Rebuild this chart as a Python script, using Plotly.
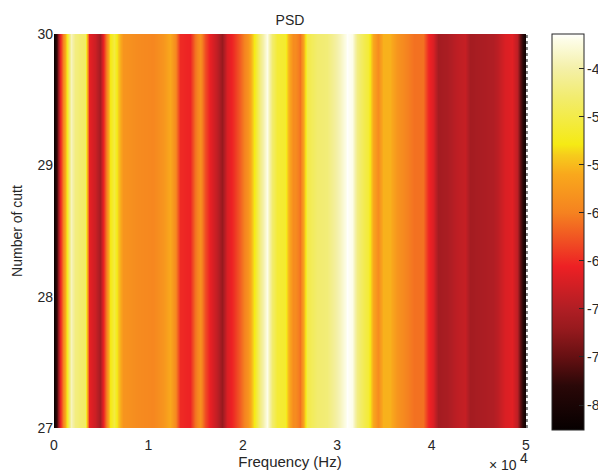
import plotly.graph_objects as go

# Frequency in kHz and PSD in dB
freq_khz = [0, 0.32, 0.64, 0.95, 1.38, 1.80, 2.22, 2.75, 3.28, 3.50, 3.71, 4.34, 4.87, 5.19, 5.61, 5.93,
            6.36, 6.78, 7.31, 8.79, 10.49, 11.55, 12.29, 12.82, 13.35, 14.41, 14.94, 15.47, 16.0, 16.53,
            17.27, 17.80, 18.33, 18.96, 19.70, 20.55, 21.29, 21.82, 22.56, 23.09, 23.62, 24.47, 24.79,
            25.32, 25.53, 26.06, 26.38, 26.80, 27.86, 28.92, 29.56, 30.30, 31.04, 31.57, 32.10, 32.63,
            33.26, 33.79, 34.32, 34.85, 35.59, 36.33, 37.39, 38.14, 39.09, 39.62, 40.15, 40.68, 41.63,
            42.69, 43.54, 44.07, 45.13, 46.50, 47.03, 47.78, 48.52, 49.05, 49.36, 50.0]
psd_db = [-82, -76, -66, -60, -52, -44, -47, -48, -48.5, -56, -66, -68, -71, -66, -59, -53,
          -50.5, -54, -58, -59, -59.5, -58, -56, -59, -65, -65.5, -61, -58.5, -63, -66,
          -69, -72, -67, -65, -62, -58, -52, -47, -42, -48, -51, -51.5, -55,
          -59, -59, -61, -57, -50, -48, -47.5, -46, -44, -41.5, -42, -47, -49,
          -51, -56, -59, -55.5, -55.5, -58, -60, -61, -61, -65, -67, -71, -70.5,
          -69, -68.5, -71, -70.5, -70, -69, -67, -66.5, -69, -75, -82]
cutts = [27, 28, 29, 30]
x_ticks = [0, 1, 2, 3, 4, 5]
y_ticks = [27, 28, 29, 30]
cbar_ticks = [-45, -50, -55, -60, -65, -70, -75, -80]
z_min, z_max = -82.6, -41.4

colour_stops = [(-82.6, "#060000"), (-78, "#2a0808"), (-75, "#661012"), (-72, "#981a1e"),
                (-70, "#b01e24"), (-65.6, "#ed2024"), (-63, "#f04e23"), (-60, "#f58220"),
                (-56, "#f9a81c"), (-54, "#f6cc1c"), (-52.9, "#f5ea14"), (-48, "#f2ec6e"),
                (-45, "#f4f0a8"), (-42, "#fdfde8"), (-41.4, "#ffffff")]
colorscale = [[(v - z_min) / (z_max - z_min), c] for v, c in colour_stops]

W, H = 598, 470
L, R, T, B = 54, 526, 34, 428
CB_L, CB_R, CB_T, CB_B = 552, 584, 34, 430
FONT = "Liberation Sans, Arial, sans-serif"
INK = "#262626"
TEXT = dict(size=14, color=INK, family=FONT)

fig = go.Figure(go.Heatmap(
    x=[f * 1000 for f in freq_khz],
    y=cutts,
    z=[psd_db for _ in cutts],
    zmin=z_min, zmax=z_max,
    zsmooth="best",
    colorscale=colorscale,
    colorbar=dict(
        x=(CB_L - L) / (R - L), xanchor="left", xpad=0,
        y=1, yanchor="top", ypad=0,
        thickness=CB_R - CB_L, thicknessmode="pixels",
        len=CB_B - CB_T, lenmode="pixels",
        tickvals=cbar_ticks, ticks="inside", ticklen=5, tickcolor=INK, tickwidth=1,
        showticklabels=False,
        outlinecolor=INK, outlinewidth=1,
    ),
))

# Colourbar labels sit hard against the bar, as in the reference, so they are annotations;
# also the left-side colourbar ticks and the dense tick dots on the right of the axes
shapes = []
annotations = []
for v in cbar_ticks:
    py = CB_T + (z_max - v) / (z_max - z_min) * (CB_B - CB_T)
    yp = (B - py) / (B - T)
    shapes.append(dict(type="line", xref="paper", yref="paper",
                       x0=(CB_L - L) / (R - L), x1=(CB_L + 4 - L) / (R - L), y0=yp, y1=yp,
                       line=dict(color=INK, width=1)))
    annotations.append(dict(text=str(v), xref="paper", yref="paper", x=(CB_R + 2 - L) / (R - L), y=yp,
                            xanchor="left", yanchor="middle", showarrow=False, borderpad=0, font=TEXT))
shapes.append(dict(type="line", xref="paper", yref="paper", x0=1.002, x1=1.002, y0=0, y1=1,
                   line=dict(color="#555555", width=1.5, dash="dot")))
annotations.append(dict(text="× 10", xref="paper", yref="paper", x=(488 - L) / (R - L), y=-(465 - B) / (B - T),
                        xanchor="left", yanchor="middle", showarrow=False, borderpad=0, font=TEXT))
annotations.append(dict(text="4", xref="paper", yref="paper", x=(524 - L) / (R - L), y=-(458 - B) / (B - T),
                        xanchor="center", yanchor="middle", showarrow=False, borderpad=0, font=TEXT))

fig.update_layout(
    width=W, height=H,
    margin=dict(l=L, r=W - R, t=T, b=H - B, pad=0, autoexpand=False),
    paper_bgcolor="white", plot_bgcolor="white",
    font=dict(family=FONT, size=14, color=INK),
    title=dict(text="PSD", x=(L + R) / 2 / W, xanchor="center", y=1 - 20 / H, yanchor="middle", font=TEXT),
    xaxis=dict(range=[0, 50000], tickvals=[t * 10000 for t in x_ticks], ticktext=[str(t) for t in x_ticks],
               ticks="outside", ticklen=4, tickcolor="rgba(0,0,0,0)", showgrid=False, zeroline=False,
               showline=False, automargin=False,
               title=dict(text="Frequency (Hz)", standoff=4, font=dict(size=15, color=INK, family=FONT))),
    yaxis=dict(range=[27, 30], tickvals=y_ticks, ticks="", showgrid=False, zeroline=False, showline=False,
               automargin=False,
               title=dict(text="Number of cutt", standoff=11, font=TEXT)),
    shapes=shapes,
    annotations=annotations,
)

# Remove the page's default body margin so the figure fills the window exactly
fig.write_html("out.html", config={"displayModeBar": False},
               post_script="document.body.style.margin='0';document.documentElement.style.overflow='hidden';")
